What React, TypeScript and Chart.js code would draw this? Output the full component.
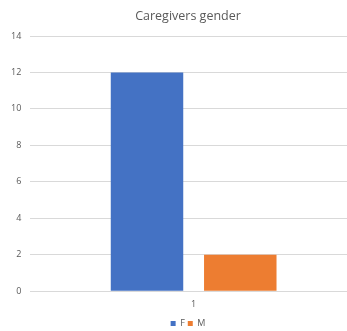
import React, { useEffect, useRef } from "react";
import { Chart, registerables } from "chart.js";

Chart.register(...registerables);

const categories = ["1"];
const femaleValues = [12];
const maleValues = [2];
const yTicks = [0, 2, 4, 6, 8, 10, 12, 14];

const TEXT = "#595959";
const FONT = "'Open Sans', 'Liberation Sans', sans-serif";

// Title and legend sit centred over the whole chart frame rather than the inner area.
const shiftHeaderFooter = {
  id: "shiftHeaderFooter",
  afterLayout(chart: any) {
    const dx = 8.5;
    for (const box of [chart.titleBlock, chart.legend]) {
      if (!box) continue;
      box.left += dx;
      box.right += dx;
    }
  },
};

export default function App() {
  const ref = useRef<HTMLCanvasElement | null>(null);

  useEffect(() => {
    if (!ref.current) return;
    const chart = new Chart(ref.current, {
      type: "bar",
      data: {
        labels: categories,
        datasets: [
          { label: "F", data: femaleValues, backgroundColor: "#4472C4" },
          { label: "M", data: maleValues, backgroundColor: "#ED7D31" },
        ],
      },
      plugins: [shiftHeaderFooter],
      options: {
        animation: false,
        responsive: false,
        maintainAspectRatio: false,
        layout: { padding: { left: 2, right: 19, top: 0, bottom: -7 } },
        datasets: { bar: { categoryPercentage: 0.571, barPercentage: 0.777 } },
        plugins: {
          title: {
            display: true,
            text: "Caregivers gender",
            color: TEXT,
            font: { family: FONT, size: 12.5, weight: "normal" },
            padding: { top: 9, bottom: 12 },
          },
          legend: {
            position: "bottom",
            labels: {
              color: TEXT,
              font: { family: FONT, size: 9 },
              boxWidth: 5,
              boxHeight: 5,
              padding: 3,
            },
          },
          tooltip: { enabled: false },
        },
        scales: {
          x: {
            grid: { display: false },
            border: { display: false },
            ticks: { color: TEXT, font: { family: FONT, size: 9 }, padding: 0 },
            afterFit: (axis: any) => {
              axis.height += 6;
            },
          },
          y: {
            min: 0,
            max: 14,
            afterBuildTicks: (axis: any) => {
              axis.ticks = yTicks.map((v) => ({ value: v }));
            },
            grid: { color: "#d9d9d9", drawTicks: false },
            border: { display: false },
            ticks: { color: TEXT, font: { family: FONT, size: 9 }, padding: 9 },
          },
        },
      },
    });
    return () => chart.destroy();
  }, []);

  return (
    <div
      style={{
        position: "fixed",
        left: 0,
        top: 0,
        width: 347,
        height: 331,
        overflow: "hidden",
        background: "#fff",
      }}
    >
      <canvas ref={ref} width={376} height={331} style={{ display: "block" }} />
    </div>
  );
}
